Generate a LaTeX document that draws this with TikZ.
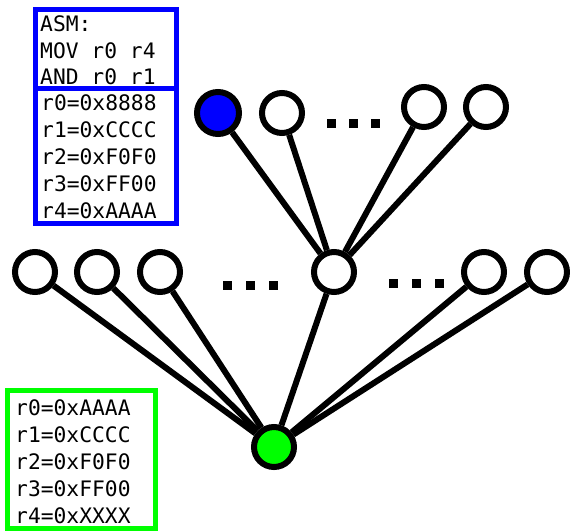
\documentclass[tikz,border=0pt]{standalone}
\usepackage{fontspec}
\newfontfamily\monofont{DejaVu Sans Mono}
\begin{document}
\begin{tikzpicture}[x=1pt,y=-1pt,
  vert/.style={circle,draw=black,line width=6pt,fill=white,minimum size=40pt,inner sep=0pt},
  edge/.style={line width=6pt},
  dotsq/.style={fill=black,minimum size=9pt,inner sep=0pt},
  txt/.style={font=\monofont\fontsize{21.3}{27}\selectfont,anchor=base west,inner sep=0pt},
  bluebox/.style={draw=blue,line width=5pt},
  greenbox/.style={draw=green,line width=5pt}]
\useasboundingbox (0,0) rectangle (570,531);
% boxes
\draw[bluebox] (35,9) rectangle (176,88);
\draw[bluebox] (35,88) rectangle (176,223);
\draw[greenbox] (7,390) rectangle (155,528.5);
% texts
\node[txt] (a1) at (40,31) {ASM:};
\node[txt] (a2) at (40,58) {MOV r0 r4};
\node[txt] (a3) at (40,84) {AND r0 r1};
\node[txt] (b0) at (41,110) {r0=0x8888};
\node[txt] (b1) at (41,137) {r1=0xCCCC};
\node[txt] (b2) at (41,164) {r2=0xF0F0};
\node[txt] (b3) at (41,191) {r3=0xFF00};
\node[txt] (b4) at (41,218) {r4=0xAAAA};
\node[txt] (g0) at (15,415) {r0=0xAAAA};
\node[txt] (g1) at (15,442) {r1=0xCCCC};
\node[txt] (g2) at (15,469) {r2=0xF0F0};
\node[txt] (g3) at (15,496) {r3=0xFF00};
\node[txt] (g4) at (15,523) {r4=0xXXXX};
% vertices
\node[vert,fill=blue,minimum size=42pt] (t1) at (218,113) {};
\node[vert] (t2) at (282,113) {};
\node[vert] (t3) at (424,107) {};
\node[vert] (t4) at (486,107) {};
\node[vert] (m1) at (35,272) {};
\node[vert] (m2) at (97,272) {};
\node[vert] (m3) at (160,272) {};
\node[vert] (mc) at (334,272) {};
\node[vert] (m5) at (484,272) {};
\node[vert] (m6) at (547,272) {};
\node[vert,fill=green] (r) at (274,447) {};
% edges
\foreach \a in {t1,t2,t3,t4} \draw[edge] (\a) -- (mc);
\foreach \a in {m1,m2,m3,mc,m5,m6} \draw[edge] (\a) -- (r);
% dots
\node[dotsq] (d1) at (331,123) {};
\node[dotsq] (d2) at (353,123) {};
\node[dotsq] (d3) at (375,123) {};
\node[dotsq] (d4) at (227,285) {};
\node[dotsq] (d5) at (250,285) {};
\node[dotsq] (d6) at (273,285) {};
\node[dotsq] (d7) at (393,283) {};
\node[dotsq] (d8) at (416,283) {};
\node[dotsq] (d9) at (439,283) {};
\end{tikzpicture}
\end{document}
